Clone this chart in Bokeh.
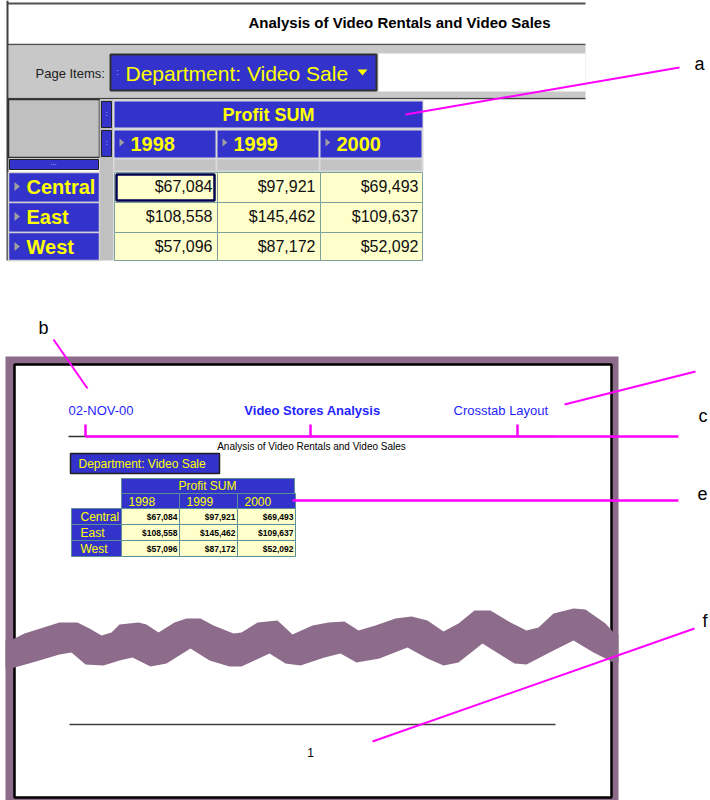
from bokeh.plotting import figure
from bokeh.models import Range1d
from bokeh.core.properties import value
from bokeh.embed import file_html
from bokeh.resources import INLINE

# ---------------- data ----------------
years = ["1998", "1999", "2000"]
regions = ["Central", "East", "West"]
profit_1998 = [67084, 108558, 57096]
profit_1999 = [97921, 145462, 87172]
profit_2000 = [69493, 109637, 52092]
measure = "Profit SUM"
page_item = "Department: Video Sale"
page_items_label = "Page Items:"
report_title = "Analysis of Video Rentals and Video Sales"
report_date = "02-NOV-00"
report_name = "Video Stores Analysis"
layout_name = "Crosstab Layout"
page_number = "1"
callouts = ["a", "b", "c", "e", "f"]

# torn-page band outline (decoration)
wave_top_x = [5, 14, 24, 43, 59, 77, 89, 101, 111, 119, 138, 146, 158, 174, 186, 200, 213, 233, 241,
              257, 277, 292, 312, 328, 344, 358, 375, 395, 411, 427, 443, 458, 474, 490, 510, 526,
              538, 553, 573, 585, 605, 613, 618]
wave_top_y = [640, 638, 633, 627, 622, 622, 628, 635, 632, 624, 622, 624, 632, 622, 618, 618, 625, 633, 632,
              622, 620, 634, 625, 622, 621, 630, 625, 618, 616, 620, 631, 623, 610, 610, 622, 630,
              627, 613, 608, 609, 623, 632, 634]
wave_bot_x = [5, 14, 32, 59, 71, 85, 103, 119, 132, 150, 166, 190, 209, 229, 241, 269, 285, 300, 324, 340,
              356, 379, 407, 427, 443, 458, 482, 514, 526, 553, 573, 593, 613, 618]
wave_bot_y = [668, 667, 662, 654, 652, 664, 665, 660, 657, 666, 663, 648, 660, 666, 666, 653, 663, 665, 657, 653,
              662, 658, 647, 658, 665, 662, 643, 663, 664, 650, 640, 652, 662, 662]

profits = [profit_1998, profit_1999, profit_2000]

# ---------------- figure ----------------
p = figure(width=710, height=800, x_range=Range1d(0, 710), y_range=Range1d(800, 0),
           output_backend="svg", toolbar_location=None, min_border=0,
           x_axis_location=None, y_axis_location=None,
           background_fill_color="white", border_fill_color="white", outline_line_color=None)
p.grid.visible = False

FONT = value("Liberation Sans")
BLUE = "#3333cc"
YEL = "#ffff00"
CELL = "#ffffcc"
MAG = "#ff00ff"
PURPLE = "#8d6b8a"
PBLUE = "#1f1fff"


def box(l, r, t, b, fill, line=None, lw=1):
    p.quad(left=[l], right=[r], top=[t], bottom=[b], fill_color=fill, line_color=line, line_width=lw)


def seg(x0, y0, x1, y1, color, lw):
    p.segment(x0=[x0], y0=[y0], x1=[x1], y1=[y1], line_color=color, line_width=lw)


def txt(x, y, s, size, color="#000000", bold=False, align="left"):
    p.text(x=[x], y=[y], text=[s], text_font=FONT, text_font_size=f"{size}px",
           text_font_style="bold" if bold else "normal", text_color=color,
           text_align=align, text_baseline="middle")


def tri_right(x, y, s, color):
    p.patch(x=[x, x, x + s * 0.6], y=[y - s / 2, y + s / 2, y], fill_color=color, line_color=None)


def money(v):
    return "${:,}".format(v)


# ================= top screenshot =================
box(8, 585, 45, 97, "#c8c8c8")
box(378, 585, 53, 91, "white")
seg(7, 3, 585, 3, "#505050", 2)
seg(7, 44, 585, 44, "#505050", 1.5)
seg(7, 98, 585, 98, "#404040", 1.5)
seg(7, 0, 7, 260, "#404040", 2)
txt(399, 22, report_title, 15, "#000000", bold=True, align="center")
txt(35, 73, page_items_label, 13, "#202020")
box(110, 376, 54, 90, BLUE, "#303030", 2)
txt(117, 71, ":", 9, "#b0b0ff", align="center")
txt(125, 73, page_item, 21, YEL)
p.patch(x=[357, 367, 362], y=[69, 69, 75], fill_color=YEL, line_color=None)

# crosstab
box(8, 99, 99, 157, "#c0c0c0", "#303030", 1.5)
box(99, 113, 99, 260, "#c0c0c0")
box(113, 423, 99, 172, "#d8d8d8")
box(101, 111, 101, 127, BLUE, "#202020", 1)
box(101, 111, 130, 156, BLUE, "#202020", 1)
txt(106, 113, ":", 8, "#c0c0ff", align="center")
txt(106, 142, ":", 8, "#c0c0ff", align="center")
box(114, 422, 101, 127, BLUE)
txt(268, 114, measure, 18, YEL, bold=True, align="center")
for i, yr in enumerate(years):
    l = 114 + 103 * i
    r = l + 101
    box(l, r, 130, 157, BLUE)
    tri_right(l + 5, 142, 8, "#a0a0a0")
    txt(l + 16, 143, yr, 20, YEL, bold=True)
    box(l, r, 159, 170, "#c4c4c4")
box(9, 98, 159, 169, BLUE, "#202020", 1)
txt(53, 162, "...", 8, "#c0c0ff", align="center")

for j, reg in enumerate(regions):
    t = 172 + 30 * j
    b = min(t + 30, 260)
    ym = t + 14
    box(8, 99, t, b, BLUE, "#d0d0d0", 1.5)
    tri_right(14, ym, 9, "#a0a0a0")
    txt(26, ym, reg, 20, YEL, bold=True)
    for i in range(len(years)):
        l = 114 + 103 * i
        r = l + 103
        box(l, min(r, 422), t, b, CELL, "#7aa0a0", 1)
        txt(r - 5, ym, money(profits[i][j]), 16, "#101010", align="right")
box(116, 214, 174, 200, None, "#000050", 2.5)

# ================= bottom page =================
box(5, 618, 356, 800, PURPLE)
box(14, 611, 364, 797, "white", "#000000", 2.5)
txt(68, 410, report_date, 13, PBLUE)
txt(312, 410, report_name, 13, PBLUE, bold=True, align="center")
txt(453, 410, layout_name, 13, PBLUE)
seg(68, 436, 555, 436, "#303030", 1.5)
txt(311, 446, report_title, 10, "#000000", align="center")
box(70, 219, 453, 473, BLUE, "#202020", 1.5)
txt(78, 463, page_item, 12, YEL)

GRID = "#5a8f95"
box(121, 294, 478, 493, BLUE, GRID, 1)
txt(207, 485, measure, 12, YEL, align="center")
for i, yr in enumerate(years):
    l = 121 + 58 * i
    r = l + 58
    box(l, r, 493, 508, BLUE, GRID, 1)
    txt(l + 7, 501, yr, 12, YEL)
for j, reg in enumerate(regions):
    t = 508 + 16 * j
    b = t + 16
    box(71, 121, t, b, BLUE, GRID, 1)
    txt(80, t + 8.5, reg, 12, YEL)
    for i in range(len(years)):
        l = 121 + 58 * i
        r = l + 58
        box(l, r, t, b, CELL, GRID, 1)
        txt(r - 2, t + 8, money(profits[i][j]), 8.5, "#000000", bold=True, align="right")

# torn band
p.patch(x=wave_top_x + wave_bot_x[::-1], y=wave_top_y + wave_bot_y[::-1],
        fill_color=PURPLE, line_color=None)

seg(69, 724, 555, 724, "#404040", 1.5)
txt(310, 752, page_number, 12, "#000000", align="center")

# ================= callouts =================
seg(405, 114, 679, 67, MAG, 2)
txt(699, 63, callouts[0], 18, "#000000", align="center")
txt(43, 327, callouts[1], 18, "#000000", align="center")
seg(53, 339, 87, 388, MAG, 2)
seg(85, 436, 678, 436, MAG, 2.5)
for xt in [85, 310, 517]:
    seg(xt, 424, xt, 436, MAG, 2.5)
seg(564, 404, 695, 371, MAG, 2)
txt(707, 415, callouts[2], 18, "#000000", align="right")
seg(292, 500, 678, 500, MAG, 2.5)
txt(702, 493, callouts[3], 18, "#000000", align="center")
seg(372, 741, 694, 628, MAG, 2)
txt(707, 620, callouts[4], 18, "#000000", align="right")

open("out.html", "w").write(file_html(p, INLINE))
